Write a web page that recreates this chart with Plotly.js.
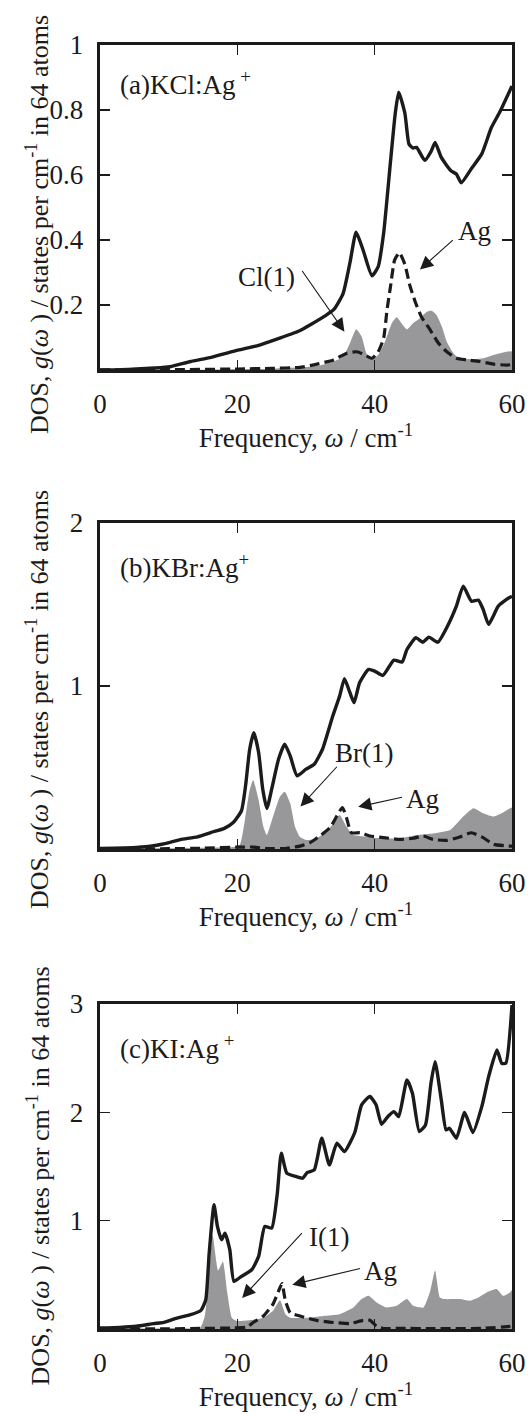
<!DOCTYPE html>
<html>
<head>
<meta charset="utf-8">
<script src="https://cdn.plot.ly/plotly-3.0.1.min.js"></script>
<style>html,body{margin:0;padding:0;background:#fff;}#chart{width:531px;height:1414px;}</style>
</head>
<body>
<div id="chart"></div>
<script>
// ---------- Panel (a) KCl:Ag+ ----------
const kclTotalX = [0, 3, 5.3, 8, 10.2, 13.2, 16.2, 20.1, 23.1, 26.0, 29.0, 30.7, 32.9, 34.1, 35.4, 36.4, 37.3, 38.3, 39.6, 40.5, 41.3, 42.3, 43.0, 43.5, 44.4, 45.0, 45.6, 46.1, 47.3, 48.2, 48.8, 49.7, 51.1, 51.9, 52.6, 54.1, 55.6, 57.0, 58.3, 60];
const kclTotalY = [0, 0.001, 0.003, 0.006, 0.010, 0.026, 0.039, 0.061, 0.076, 0.097, 0.120, 0.140, 0.168, 0.187, 0.235, 0.330, 0.424, 0.370, 0.290, 0.317, 0.420, 0.640, 0.790, 0.855, 0.790, 0.695, 0.683, 0.685, 0.645, 0.672, 0.700, 0.654, 0.613, 0.603, 0.576, 0.620, 0.665, 0.746, 0.797, 0.874];
const kclClX = [0, 15, 25, 30, 32, 34.0, 35.4, 36.4, 37.3, 38.1, 38.8, 39.6, 40.5, 41.5, 42.5, 43.2, 43.9, 44.7, 45.6, 46.6, 47.6, 48.3, 49.0, 49.8, 50.5, 51.5, 52.4, 54.4, 55.8, 57.3, 59.2, 60];
const kclClY = [0, 0.001, 0.004, 0.009, 0.014, 0.026, 0.041, 0.082, 0.125, 0.103, 0.051, 0.033, 0.046, 0.087, 0.144, 0.162, 0.144, 0.125, 0.144, 0.159, 0.179, 0.182, 0.169, 0.133, 0.087, 0.051, 0.036, 0.033, 0.036, 0.046, 0.056, 0.058];
const kclAgX = [0, 10, 20, 25, 29.1, 31.6, 34.0, 35.9, 37.4, 38.6, 39.6, 40.5, 41.3, 41.8, 42.3, 42.9, 43.6, 44.4, 45.1, 45.9, 46.8, 48.1, 49.3, 50.5, 51.9, 53.4, 55.3, 57.3, 59.2, 60];
const kclAgY = [0, 0.001, 0.003, 0.005, 0.008, 0.018, 0.031, 0.051, 0.056, 0.046, 0.036, 0.056, 0.097, 0.185, 0.256, 0.338, 0.361, 0.325, 0.262, 0.210, 0.164, 0.123, 0.082, 0.056, 0.036, 0.031, 0.026, 0.018, 0.015, 0.017];

// ---------- Panel (b) KBr:Ag+ ----------
const kbrTotalX = [0, 5.3, 7.8, 10.2, 11.7, 14.2, 16.2, 18.1, 19.4, 20.6, 21.2, 21.8, 22.4, 23.1, 23.7, 24.3, 25.0, 26.0, 26.9, 27.7, 28.7, 30.0, 31.2, 32.4, 33.9, 34.9, 35.6, 36.4, 37.0, 37.8, 39.1, 40.0, 41.2, 42.8, 44.0, 44.7, 46.0, 47.0, 47.9, 49.2, 50.6, 51.9, 52.9, 54.1, 55.1, 55.8, 56.6, 58.0, 59.5, 60];
const kbrTotalY = [0.004, 0.01, 0.02, 0.041, 0.058, 0.075, 0.102, 0.127, 0.163, 0.235, 0.388, 0.612, 0.714, 0.592, 0.367, 0.249, 0.367, 0.551, 0.643, 0.571, 0.449, 0.49, 0.52, 0.612, 0.816, 0.939, 1.045, 0.959, 0.898, 1.02, 1.102, 1.092, 1.065, 1.159, 1.147, 1.224, 1.296, 1.269, 1.3, 1.269, 1.367, 1.49, 1.612, 1.52, 1.527, 1.47, 1.378, 1.49, 1.54, 1.55];
const kbrBrX = [0, 5, 10, 15, 18, 19.4, 20.4, 21.1, 21.8, 22.3, 23.1, 23.8, 24.3, 25.2, 26.2, 26.9, 27.7, 28.4, 29.1, 30.1, 31.5, 33.0, 34.0, 34.9, 35.9, 36.9, 38.8, 41.3, 43.7, 46.1, 48.5, 51.0, 52.9, 54.4, 55.8, 57.3, 58.5, 59.7, 60];
const kbrBrY = [0, 0.003, 0.005, 0.008, 0.01, 0.012, 0.03, 0.177, 0.362, 0.424, 0.301, 0.137, 0.086, 0.199, 0.321, 0.352, 0.281, 0.137, 0.076, 0.055, 0.065, 0.106, 0.158, 0.209, 0.137, 0.086, 0.076, 0.065, 0.065, 0.086, 0.096, 0.117, 0.199, 0.25, 0.219, 0.199, 0.219, 0.25, 0.255];
const kbrAgX = [0, 10, 15, 20.4, 22.3, 24.3, 27.2, 29.1, 30.6, 32.0, 33.5, 34.5, 35.3, 35.9, 36.6, 37.9, 39.3, 41.3, 43.7, 45.6, 47.1, 48.5, 50.5, 52.4, 54.1, 55.8, 57.3, 59.7, 60];
const kbrAgY = [0, 0.002, 0.005, 0.012, 0.012, 0.003, 0.005, 0.018, 0.039, 0.08, 0.131, 0.203, 0.255, 0.192, 0.1, 0.1, 0.08, 0.07, 0.059, 0.066, 0.08, 0.059, 0.053, 0.074, 0.1, 0.07, 0.029, 0.018, 0.018];

// ---------- Panel (c) KI:Ag+ ----------
const kiTotalX = [0, 2.9, 5.3, 7.8, 9.3, 11.2, 13.2, 14.7, 15.4, 15.9, 16.6, 17.1, 17.7, 18.2, 18.9, 19.5, 20.6, 22.1, 23.1, 24.0, 25.0, 25.8, 26.4, 27.2, 28.5, 29.5, 30.2, 31.2, 32.3, 33.4, 34.5, 35.6, 37.1, 38.1, 39.3, 40.2, 41.0, 42.0, 42.8, 43.5, 44.7, 45.5, 46.5, 47.4, 48.2, 48.8, 49.7, 50.4, 50.9, 51.9, 53.1, 54.3, 55.6, 56.6, 57.8, 58.5, 59.1, 60];
const kiTotalY = [0.009, 0.015, 0.025, 0.049, 0.061, 0.101, 0.132, 0.172, 0.27, 0.7, 1.147, 0.947, 0.824, 0.885, 0.732, 0.44, 0.486, 0.547, 0.67, 0.947, 0.931, 1.239, 1.623, 1.439, 1.408, 1.392, 1.445, 1.469, 1.761, 1.515, 1.715, 1.638, 1.814, 2.069, 2.146, 2.069, 1.89, 1.967, 2.007, 1.961, 2.299, 2.176, 1.823, 1.884, 2.269, 2.468, 2.115, 1.838, 1.853, 1.761, 1.998, 1.814, 2.053, 2.33, 2.576, 2.453, 2.453, 2.99];
const kiIX = [0, 5, 10, 14.6, 15.3, 16.0, 16.4, 17.2, 17.9, 18.5, 19.2, 19.9, 21.8, 23.8, 25.2, 26.2, 27.0, 27.7, 30.1, 32.5, 34.9, 36.9, 38.1, 39.1, 40.3, 41.7, 43.2, 44.7, 45.6, 47.1, 48.1, 48.8, 49.5, 50.2, 52.4, 53.9, 55.1, 56.3, 57.8, 58.7, 59.7, 60];
const kiIY = [0, 0.004, 0.008, 0.015, 0.13, 0.6, 0.87, 0.54, 0.62, 0.35, 0.105, 0.074, 0.08, 0.105, 0.168, 0.265, 0.137, 0.105, 0.105, 0.121, 0.137, 0.199, 0.276, 0.307, 0.245, 0.199, 0.214, 0.276, 0.214, 0.199, 0.353, 0.54, 0.291, 0.276, 0.276, 0.261, 0.291, 0.338, 0.368, 0.307, 0.338, 0.36];
const kiAgX = [0, 10, 14.6, 19.4, 21.4, 22.3, 23.8, 25.2, 26.0, 26.5, 27.0, 27.7, 29.1, 31.5, 34.0, 36.4, 38.3, 39.3, 40.3, 41.3, 43.7, 48.5, 55.8, 59.7, 60];
const kiAgY = [0, 0.002, 0.005, 0.01, 0.018, 0.06, 0.12, 0.23, 0.35, 0.42, 0.26, 0.15, 0.12, 0.08, 0.06, 0.05, 0.08, 0.08, 0.026, 0.005, 0.006, 0.003, 0.006, 0.025, 0.03];

// ---------- Axis ticks / labels ----------
const xTicks = [0, 20, 40, 60];
const yTicksA = [0.2, 0.4, 0.6, 0.8, 1];
const yTextA = ['0.2', '0.4', '0.6', '0.8', '1'];
const yTicksB = [1, 2];
const yTextB = ['1', '2'];
const yTicksC = [1, 2, 3];
const yTextC = ['1', '2', '3'];
const panelLabels = ['(a)KCl:Ag<sup> +</sup>', '(b)KBr:Ag<sup>+</sup>', '(c)KI:Ag<sup> +</sup>'];
const xTitle = 'Frequency, <i>ω</i> / cm<sup>-1</sup>';
const yTitle = 'DOS, <i>g</i>(<i>ω</i> ) / states per cm<sup>-1</sup> in 64 atoms';

const INK = '#1c1a1b';
const GRAY = 'rgb(152,152,155)';
const FONT = 'Liberation Serif, Times New Roman, serif';

function gray(x, y, xa, ya) {
  return {x: x, y: y, xaxis: xa, yaxis: ya, type: 'scatter', mode: 'lines', fill: 'tozeroy',
    fillcolor: GRAY, line: {width: 0, color: GRAY, shape: 'spline', smoothing: 0.5}, hoverinfo: 'skip', showlegend: false};
}
function dashed(x, y, xa, ya) {
  return {x: x, y: y, xaxis: xa, yaxis: ya, type: 'scatter', mode: 'lines',
    line: {width: 3.2, color: INK, dash: '10px,5px', shape: 'spline', smoothing: 0.5}, showlegend: false};
}
function solid(x, y, xa, ya) {
  return {x: x, y: y, xaxis: xa, yaxis: ya, type: 'scatter', mode: 'lines',
    line: {width: 3.4, color: INK, shape: 'spline', smoothing: 0.5}, showlegend: false};
}

const data = [
  gray(kclClX, kclClY, 'x', 'y'), dashed(kclAgX, kclAgY, 'x', 'y'), solid(kclTotalX, kclTotalY, 'x', 'y'),
  gray(kbrBrX, kbrBrY, 'x2', 'y2'), dashed(kbrAgX, kbrAgY, 'x2', 'y2'), solid(kbrTotalX, kbrTotalY, 'x2', 'y2'),
  gray(kiIX, kiIY, 'x3', 'y3'), dashed(kiAgX, kiAgY, 'x3', 'y3'), solid(kiTotalX, kiTotalY, 'x3', 'y3')
];

function xAxis(anchor) {
  return {anchor: anchor, domain: [0, 1], range: [0, 60], tickvals: xTicks, ticktext: xTicks.map(String),
    ticks: 'inside', ticklen: 10, tickwidth: 1.5, tickcolor: INK, showline: true, linewidth: 3.4, linecolor: INK,
    mirror: 'ticks', showgrid: false, zeroline: false, tickfont: {size: 27, color: INK}, ticklabelstandoff: 7,
    title: {text: xTitle, font: {size: 27, color: INK}, standoff: 0}, automargin: false, fixedrange: true};
}
function yAxis(anchor, domain, range, vals, txt) {
  return {anchor: anchor, domain: domain, range: range, tickvals: vals, ticktext: txt,
    ticks: 'inside', ticklen: 10, tickwidth: 1.5, tickcolor: INK, showline: true, linewidth: 3.4, linecolor: INK,
    mirror: 'ticks', showgrid: false, zeroline: false, tickfont: {size: 27, color: INK}, ticklabelstandoff: 8,
    automargin: false, fixedrange: true};
}

function label(text, x, y, xr, yr, anchor) {
  return {text: text, x: x, y: y, xref: xr, yref: yr, showarrow: false, xanchor: anchor || 'center', yanchor: 'middle',
    font: {size: 27, color: INK, family: FONT}};
}
function arrow(x, y, ax, ay, xr, yr) {
  return {text: '', x: x, y: y, ax: ax, ay: ay, xref: xr, yref: yr, axref: xr, ayref: yr, showarrow: true,
    arrowhead: 2, arrowsize: 2.4, arrowwidth: 1.1, arrowcolor: INK, standoff: 0, startstandoff: 0};
}
function yTitleNote(yPaper) {
  return {text: yTitle, x: -0.150, y: yPaper, xref: 'paper', yref: 'paper', showarrow: false, textangle: -90,
    xanchor: 'center', yanchor: 'middle', font: {size: 26, color: INK, family: FONT}};
}

const annotations = [
  yTitleNote(0.860), yTitleNote(0.490), yTitleNote(0.119),

  label(panelLabels[0], 2.6, 0.884, 'x', 'y', 'left'),
  label('Cl(1)', 24.3, 0.286, 'x', 'y'),
  arrow(35.6, 0.118, 29.3, 0.309, 'x', 'y'),
  label('Ag', 54.5, 0.429, 'x', 'y'),
  arrow(46.6, 0.309, 51.6, 0.404, 'x', 'y'),

  label(panelLabels[1], 2.6, 1.735, 'x2', 'y2', 'left'),
  label('Br(1)', 38.5, 0.588, 'x2', 'y2'),
  arrow(29.2, 0.261, 34.7, 0.514, 'x2', 'y2'),
  label('Ag', 47.0, 0.306, 'x2', 'y2'),
  arrow(37.6, 0.259, 44.2, 0.320, 'x2', 'y2'),

  label(panelLabels[2], 2.6, 2.607, 'x3', 'y3', 'left'),
  label('I(1)', 33.4, 0.848, 'x3', 'y3'),
  arrow(20.7, 0.286, 29.6, 0.90, 'x3', 'y3'),
  label('Ag', 40.9, 0.532, 'x3', 'y3'),
  arrow(28.0, 0.409, 38.1, 0.562, 'x3', 'y3')
];

const layout = {
  width: 531, height: 1414,
  margin: {l: 100, r: 19, t: 45, b: 85, pad: 0},
  paper_bgcolor: '#ffffff', plot_bgcolor: '#ffffff',
  font: {family: FONT, size: 27, color: INK},
  showlegend: false,
  xaxis: xAxis('y'),
  yaxis: yAxis('x', [0.7469, 1], [0, 1], yTicksA, yTextA),
  xaxis2: xAxis('y2'),
  yaxis2: yAxis('x2', [0.3738, 0.6277], [0, 2], yTicksB, yTextB),
  xaxis3: xAxis('y3'),
  yaxis3: yAxis('x3', [0, 0.2531], [0, 3], yTicksC, yTextC),
  annotations: annotations
};

Plotly.newPlot('chart', data, layout, {staticPlot: true, displayModeBar: false});
</script>
</body>
</html>
